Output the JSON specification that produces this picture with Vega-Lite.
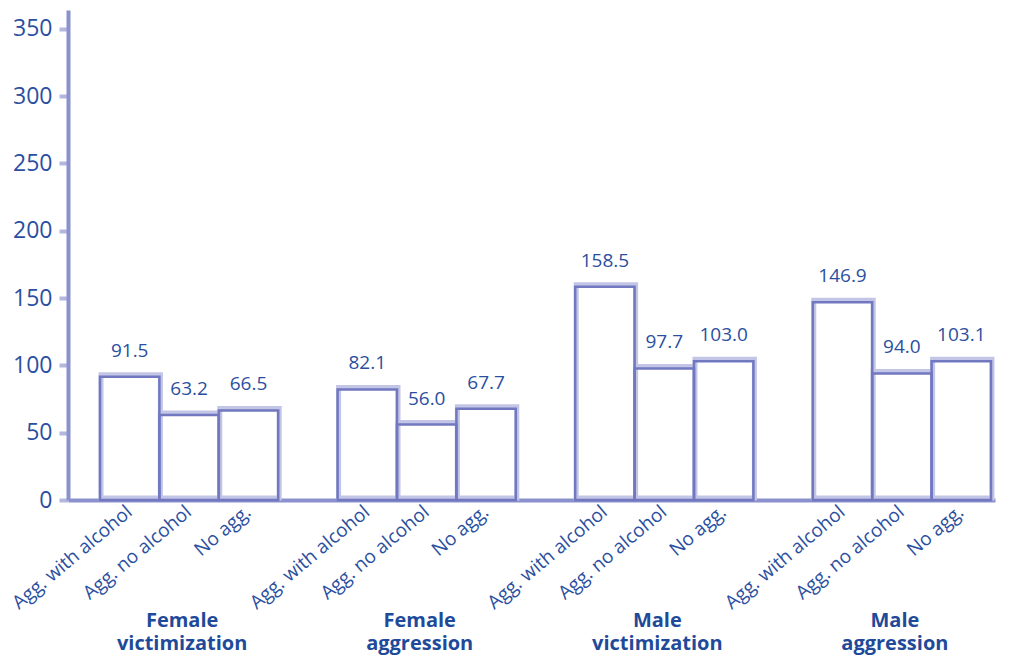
{
  "$schema": "https://vega.github.io/schema/vega-lite/v6.json",
  "width": 927,
  "height": 490,
  "autosize": {"type": "none"},
  "padding": {"left": 68, "top": 10, "right": 21, "bottom": 158},
  "background": "white",
  "config": {
    "view": {"stroke": null},
    "font": "Open Sans"
  },
  "data": {
    "values": [
      {"group": "Female victimization", "cat": "Agg. with alcohol|FV", "value": 91.5},
      {"group": "Female victimization", "cat": "Agg. no alcohol|FV", "value": 63.2},
      {"group": "Female victimization", "cat": "No agg.|FV", "value": 66.5},
      {"group": "Female aggression", "cat": "Agg. with alcohol|FA", "value": 82.1},
      {"group": "Female aggression", "cat": "Agg. no alcohol|FA", "value": 56.0},
      {"group": "Female aggression", "cat": "No agg.|FA", "value": 67.7},
      {"group": "Male victimization", "cat": "Agg. with alcohol|MV", "value": 158.5},
      {"group": "Male victimization", "cat": "Agg. no alcohol|MV", "value": 97.7},
      {"group": "Male victimization", "cat": "No agg.|MV", "value": 103.0},
      {"group": "Male aggression", "cat": "Agg. with alcohol|MA", "value": 146.9},
      {"group": "Male aggression", "cat": "Agg. no alcohol|MA", "value": 94.0},
      {"group": "Male aggression", "cat": "No agg.|MA", "value": 103.1}
    ]
  },
  "resolve": {"scale": {"x": "independent"}, "axis": {"x": "independent"}},
  "layer": [
    {
      "encoding": {
        "x": {
          "field": "cat",
          "type": "nominal",
          "sort": null,
          "scale": {
            "domain": [
              "Agg. with alcohol|FV", "Agg. no alcohol|FV", "No agg.|FV", "|g1",
              "Agg. with alcohol|FA", "Agg. no alcohol|FA", "No agg.|FA", "|g2",
              "Agg. with alcohol|MV", "Agg. no alcohol|MV", "No agg.|MV", "|g3",
              "Agg. with alcohol|MA", "Agg. no alcohol|MA", "No agg.|MA"
            ],
            "paddingInner": 0,
            "paddingOuter": 0.303,
            "align": 0.889
          },
          "axis": {
            "title": null,
            "orient": "bottom",
            "labelExpr": "split(datum.value, '|')[0]",
            "labelAngle": -40,
            "labelFontSize": 19,
            "labelColor": "#2b4fa0",
            "labelPadding": 2,
            "labelOffset": -6,
            "labelFont": "Open Sans",
            "ticks": false,
            "domainColor": "#8b91cc",
            "domainWidth": 4,
            "grid": false
          }
        },
        "y": {
          "field": "value",
          "type": "quantitative",
          "scale": {"domain": [0, 364], "nice": false, "zero": true},
          "axis": {
            "title": null,
            "values": [0, 50, 100, 150, 200, 250, 300, 350],
            "labelFontSize": 23,
            "labelColor": "#2b4fa0",
            "labelFont": "Open Sans",
            "labelPadding": 7,
            "tickSize": 9,
            "tickWidth": 4,
            "tickColor": "#b3b7de",
            "domainColor": "#8b91cc",
            "domainWidth": 4,
            "grid": false
          }
        }
      },
      "layer": [
        {
          "mark": {"type": "bar", "fill": "white", "stroke": "#c2c5e6", "strokeWidth": 5, "yOffset": -2, "xOffset": 1}
        },
        {
          "mark": {"type": "bar", "fill": "white", "fillOpacity": 0, "stroke": "#7178c0", "strokeWidth": 2.5}
        },
        {
          "mark": {"type": "text", "dy": -26, "fontSize": 19, "color": "#2b4fa0", "font": "Open Sans"},
          "encoding": {"text": {"field": "value", "type": "quantitative", "format": ".1f"}}
        }
      ]
    },
    {
      "mark": {"type": "point", "opacity": 0},
      "encoding": {
        "x": {
          "field": "group",
          "type": "nominal",
          "sort": null,
          "scale": {
            "type": "band",
            "domain": ["Female victimization", "Female aggression", "Male victimization", "Male aggression"],
            "paddingInner": 0.25,
            "paddingOuter": 0.0758,
            "align": 0.889
          },
          "axis": {
            "title": null,
            "orient": "bottom",
            "labelExpr": "split(datum.value, ' ')",
            "labelAngle": 0,
            "labelAlign": "center",
            "labelFontSize": 20,
            "labelFontWeight": "bold",
            "labelColor": "#1f4a9a",
            "labelFont": "Open Sans",
            "labelLineHeight": 23,
            "labelPadding": 110,
            "labelOffset": -7,
            "labelBaseline": "top",
            "ticks": false,
            "domain": false,
            "grid": false
          }
        }
      }
    }
  ]
}
